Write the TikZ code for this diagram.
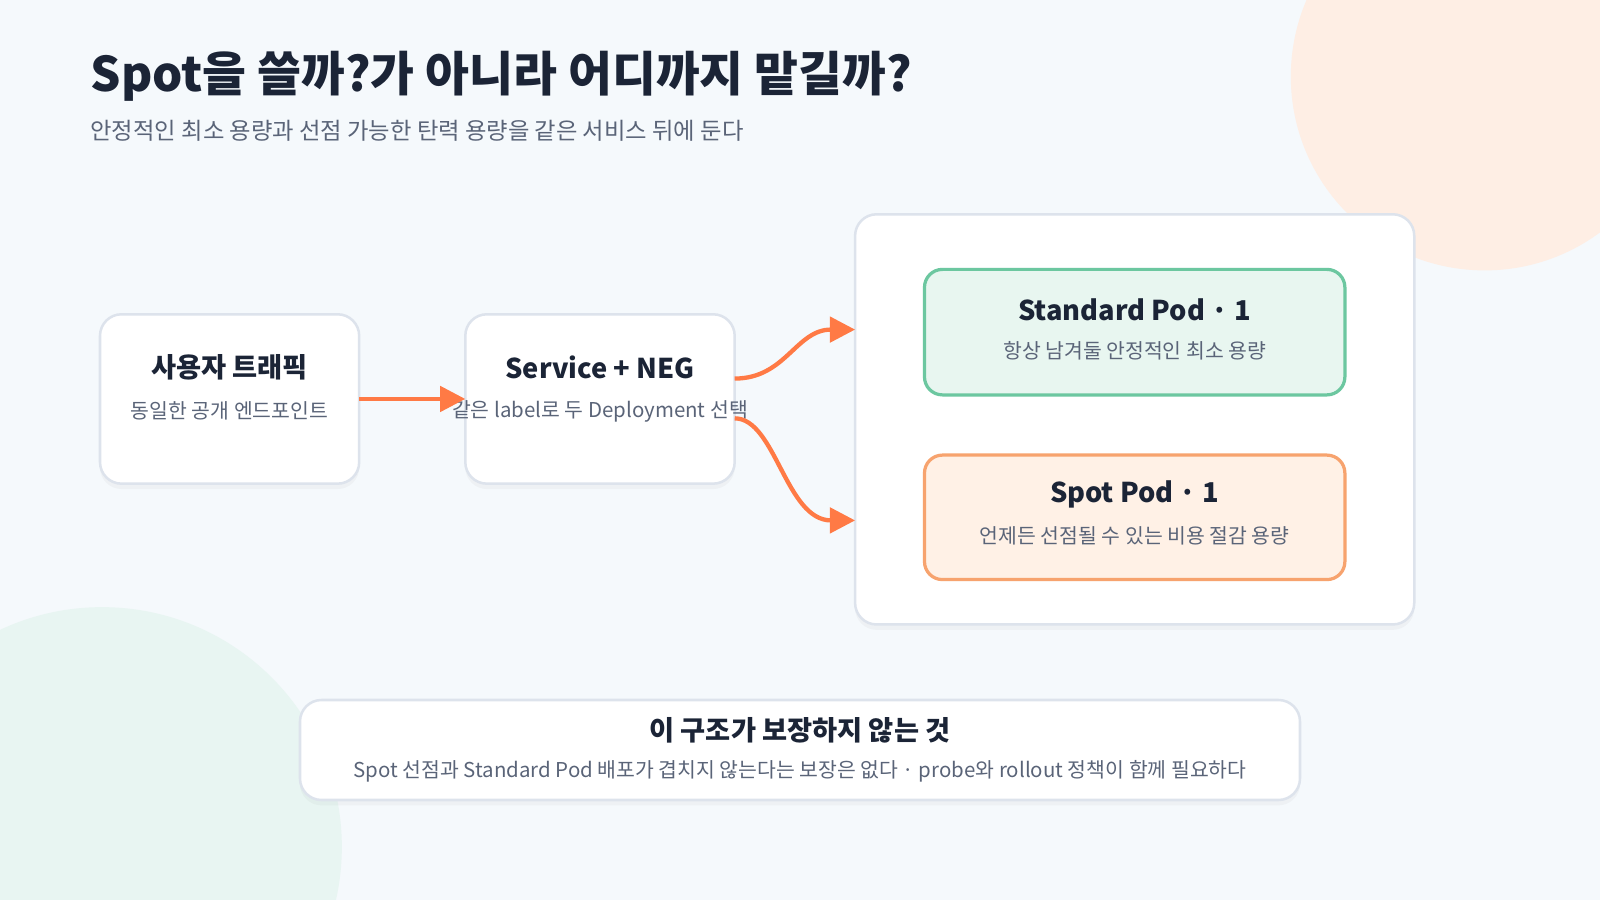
\documentclass[tikz,border=0pt]{standalone}
\usepackage{fontspec}
\setmainfont{Noto Sans CJK KR}
\usepackage{tikz}
\usetikzlibrary{arrows.meta, positioning, calc, shadows}
\definecolor{bgpale}{HTML}{F5F9FC}
\definecolor{peach}{HTML}{FEEEE4}
\definecolor{mint}{HTML}{E8F5F2}
\definecolor{inkdark}{HTML}{1B2436}
\definecolor{inkgray}{HTML}{5A6478}
\definecolor{edgegray}{HTML}{DDE3EC}
\definecolor{stdfill}{HTML}{E8F6F0}
\definecolor{stdline}{HTML}{6CC7A0}
\definecolor{spotfill}{HTML}{FFF1E6}
\definecolor{spotline}{HTML}{F7A36E}
\definecolor{flow}{HTML}{FF7A45}
\tikzset{
  card/.style={draw=edgegray, line width=0.7pt, fill=white, rounded corners=6pt,
    drop shadow={shadow xshift=0pt, shadow yshift=-1.5pt, opacity=0.06}},
  pod/.style={line width=0.9pt, rounded corners=5pt},
  headtxt/.style={font=\bfseries\fontsize{7.6}{9}\selectfont, text=inkdark},
  subtxt/.style={font=\fontsize{5.7}{7}\selectfont, text=inkgray},
  flowarrow/.style={draw=flow, line width=1.2pt, -{Triangle[length=7pt, width=7pt]}}
}
\begin{document}
\begin{tikzpicture}[x=0.01cm, y=-0.01cm]
  \useasboundingbox (0,0) rectangle (1568,882);
  % Background
  \fill[bgpale] (0,0) rectangle (1568,882);
  \begin{scope}
    \clip (0,0) rectangle (1568,882);
    \fill[peach] (1455,75) circle (190);
    \fill[mint] (100,830) circle (235);
  \end{scope}

  % Title
  \node[anchor=west, inner sep=0pt, font=\bfseries\fontsize{13.3}{16}\selectfont, text=inkdark] (title) at (88,75) {Spot을 쓸까?가 아니라 어디까지 맡길까?};
  \node[anchor=west, inner sep=0pt, font=\fontsize{6.5}{8}\selectfont, text=inkgray] (subtitle) at (88,128) {안정적인 최소 용량과 선점 가능한 탄력 용량을 같은 서비스 뒤에 둔다};

  % Cards
  \draw[card] (98,308) rectangle (352,474);
  \node[headtxt] (userhead) at (225,360) {사용자 트래픽};
  \node[subtxt] (usersub) at (225,403) {동일한 공개 엔드포인트};

  \draw[card] (456,308) rectangle (720,474);
  \node[headtxt] (svchead) at (588,360) {Service + NEG};
  \node[subtxt] (svcsub) at (588,403) {같은 label로 두 Deployment 선택};

  \draw[card] (838,210) rectangle (1386,612);

  % Pods
  \draw[pod, draw=stdline, fill=stdfill] (906,264) rectangle (1318,387);
  \node[headtxt] (stdhead) at (1112,304) {Standard Pod · 1};
  \node[subtxt] (stdsub) at (1112,344) {항상 남겨둘 안정적인 최소 용량};

  \draw[pod, draw=spotline, fill=spotfill] (906,446) rectangle (1318,568);
  \node[headtxt] (spothead) at (1112,485) {Spot Pod · 1};
  \node[subtxt] (spotsub) at (1112,525) {언제든 선점될 수 있는 비용 절감 용량};

  % Arrows
  \coordinate (userout) at (352,391);
  \coordinate (svcin) at (456,391);
  \coordinate (svcout1) at (720,371);
  \coordinate (svcout2) at (720,410);
  \coordinate (stdin) at (838,323);
  \coordinate (spotin) at (838,510);
  \draw[flowarrow] (userout) -- (svcin);
  \draw[flowarrow] (svcout1) .. controls (770,371) and (780,323) .. (stdin);
  \draw[flowarrow] (svcout2) .. controls (760,410) and (770,510) .. (spotin);

  % Note
  \draw[card] (294,686) rectangle (1274,784);
  \node[headtxt] (notehead) at (784,716) {이 구조가 보장하지 않는 것};
  \node[subtxt] (notesub) at (784,756) {Spot 선점과 Standard Pod 배포가 겹치지 않는다는 보장은 없다 · probe와 rollout 정책이 함께 필요하다};
\end{tikzpicture}
\end{document}
